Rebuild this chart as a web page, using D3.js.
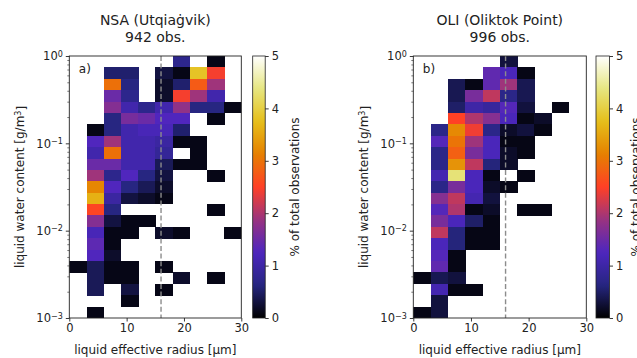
<!DOCTYPE html>
<html>
<head>
<meta charset="utf-8">
<script src="https://cdn.jsdelivr.net/npm/d3@7"></script>
<style>
  body { margin: 0; background: #fff; }
  svg { font-family: 'DejaVu Sans', sans-serif; }
</style>
</head>
<body>
<div id="chart"></div>
<script>
// 2D histograms of liquid water content vs effective radius, two sites
// counts per bin, rows from top (1 g/m3) to bottom (1e-3 g/m3), columns 0-3, 3-6 ... 27-30 um
const radiusEdges = [0, 3, 6, 9, 12, 15, 18, 21, 24, 27, 30];
const lwcEdgeExponents = d3.range(24).map(k => -3 + 3 * k / 23); // 23 log bins, 1e-3 .. 1

const nsaTitle = ["NSA (Utqiaġvik)", "942 obs."];
const nsaObs = 942;
const nsaCounts = [
  [0, 0, 0, 0, 0, 0, 7, 0, 1, 0],
  [0, 0, 5, 5, 0, 3, 1, 36, 23, 0],
  [0, 0, 28, 6, 0, 2, 5, 26, 18, 0],
  [0, 0, 14, 7, 0, 2, 23, 18, 10, 0],
  [0, 0, 16, 10, 7, 10, 17, 6, 6, 1],
  [0, 0, 6, 15, 14, 12, 12, 0, 1, 0],
  [0, 1, 6, 10, 11, 11, 5, 0, 0, 0],
  [0, 12, 18, 10, 10, 9, 1, 1, 0, 0],
  [0, 10, 28, 10, 10, 8, 0, 1, 0, 0],
  [0, 14, 14, 10, 10, 4, 1, 1, 0, 0],
  [0, 18, 7, 12, 6, 3, 0, 0, 1, 0],
  [0, 30, 12, 6, 4, 2, 0, 0, 0, 0],
  [0, 34, 9, 3, 2, 1, 0, 0, 0, 0],
  [0, 24, 6, 0, 0, 0, 0, 0, 1, 0],
  [0, 16, 3, 1, 1, 0, 0, 0, 0, 0],
  [0, 11, 1, 1, 0, 2, 1, 0, 0, 1],
  [0, 13, 1, 0, 0, 0, 0, 0, 0, 0],
  [0, 12, 2, 0, 0, 0, 0, 0, 0, 0],
  [1, 4, 1, 1, 0, 1, 0, 0, 0, 0],
  [0, 4, 1, 1, 0, 0, 2, 0, 1, 0],
  [0, 4, 0, 3, 0, 1, 0, 0, 0, 0],
  [0, 0, 0, 1, 0, 0, 0, 0, 0, 0],
  [0, 1, 0, 0, 0, 0, 0, 0, 0, 0]
];

const oliTitle = ["OLI (Oliktok Point)", "996 obs."];
const oliObs = 996;
const oliCounts = [
  [0, 0, 0, 0, 0, 3, 0, 0, 0, 0],
  [0, 0, 0, 0, 14, 12, 1, 0, 0, 0],
  [0, 0, 4, 1, 14, 19, 4, 0, 0, 0],
  [0, 0, 4, 16, 21, 7, 4, 0, 0, 0],
  [0, 0, 5, 10, 9, 13, 3, 0, 1, 0],
  [0, 0, 25, 20, 17, 12, 1, 2, 0, 0],
  [0, 7, 32, 24, 7, 2, 3, 1, 0, 0],
  [0, 13, 30, 19, 12, 1, 1, 0, 0, 0],
  [0, 7, 28, 16, 12, 2, 1, 0, 0, 0],
  [0, 7, 33, 21, 6, 2, 0, 0, 0, 0],
  [0, 11, 43, 12, 1, 0, 1, 0, 0, 0],
  [0, 7, 16, 12, 2, 1, 0, 0, 0, 0],
  [0, 17, 21, 11, 3, 0, 0, 0, 0, 0],
  [0, 13, 20, 1, 2, 0, 1, 1, 0, 0],
  [0, 16, 12, 5, 1, 0, 0, 0, 0, 0],
  [0, 21, 6, 1, 1, 0, 0, 0, 0, 0],
  [0, 12, 6, 1, 1, 0, 0, 0, 0, 0],
  [0, 13, 1, 0, 0, 0, 0, 0, 0, 0],
  [0, 14, 1, 0, 0, 0, 0, 0, 0, 0],
  [1, 4, 3, 0, 0, 0, 0, 0, 0, 0],
  [0, 11, 1, 1, 0, 0, 0, 0, 0, 0],
  [0, 3, 0, 0, 0, 0, 0, 0, 0, 0],
  [1, 3, 0, 0, 0, 0, 0, 0, 0, 0]
];

const radiusTicks = [0, 10, 20, 30];
const lwcTicks = [1e-3, 1e-2, 1e-1, 1];
const lwcTickExp = ["−3", "−2", "−1", "0"];
const cbTicks = [0, 1, 2, 3, 4, 5];
const medianRadius = 16; // dashed reference line

// CMRmap stops
const cmrStops = [0, 0.125, 0.25, 0.375, 0.5, 0.625, 0.75, 0.875, 1];
const cmrColors = ["rgb(0,0,0)", "rgb(38,38,128)", "rgb(77,38,191)", "rgb(153,51,128)",
  "rgb(255,64,38)", "rgb(230,128,0)", "rgb(230,191,26)", "rgb(230,230,128)", "rgb(255,255,255)"];
const cmap = d3.scaleLinear().domain(cmrStops).range(cmrColors).interpolate(d3.interpolateRgb).clamp(true);
const vmax = 5;

const W = 637, H = 358;
const plotTop = 56, plotBottom = 318;
const textColor = "#222";

const svg = d3.select("#chart").append("svg")
  .attr("width", W).attr("height", H);

const defs = svg.append("defs");
const grad = defs.append("linearGradient").attr("id", "cmr")
  .attr("x1", 0).attr("y1", 1).attr("x2", 0).attr("y2", 0);
d3.range(0, 1.0001, 0.02).forEach(t => {
  grad.append("stop").attr("offset", t).attr("stop-color", cmap(t));
});

function panel(opts) {
  const { left, right, cbLeft, cbWidth, cbLabelGap, counts, nObs, title, tag, id } = opts;

  const x = d3.scaleLinear().domain([0, 30]).range([left, right]);
  const y = d3.scaleLog().domain([1e-3, 1]).range([plotBottom, plotTop]);

  defs.append("clipPath").attr("id", "clip" + id)
    .append("rect").attr("x", left).attr("y", plotTop)
    .attr("width", right - left).attr("height", plotBottom - plotTop);

  const cells = [];
  counts.forEach((row, ri) => {
    const k = 22 - ri; // bin index from bottom
    row.forEach((n, ci) => {
      if (n > 0) cells.push({
        x0: radiusEdges[ci], x1: radiusEdges[ci + 1],
        y0: Math.pow(10, lwcEdgeExponents[k]), y1: Math.pow(10, lwcEdgeExponents[k + 1]),
        pct: n / nObs * 100
      });
    });
  });

  const g = svg.append("g");
  g.append("g").attr("clip-path", `url(#clip${id})`)
    .selectAll("rect").data(cells).enter().append("rect")
    .attr("x", d => x(d.x0))
    .attr("y", d => y(d.y1))
    .attr("width", d => x(d.x1) - x(d.x0) + 0.4)
    .attr("height", d => y(d.y0) - y(d.y1) + 0.4)
    .attr("fill", d => cmap(d.pct / vmax))
    .attr("shape-rendering", "crispEdges");

  // dashed reference line
  g.append("line")
    .attr("x1", x(medianRadius)).attr("x2", x(medianRadius))
    .attr("y1", plotTop).attr("y2", plotBottom)
    .attr("stroke", "#8c8c8c").attr("stroke-width", 1.4)
    .attr("stroke-dasharray", "5,2.6");

  // frame
  g.append("rect")
    .attr("x", left).attr("y", plotTop)
    .attr("width", right - left).attr("height", plotBottom - plotTop)
    .attr("fill", "none").attr("stroke", "#222").attr("stroke-width", 0.9);

  // x axis
  const xa = g.append("g").attr("transform", `translate(0,${plotBottom})`)
    .call(d3.axisBottom(x).tickValues(radiusTicks).tickSize(3.5).tickPadding(2.5).tickFormat(d3.format("d")));
  xa.select(".domain").remove();
  xa.selectAll("line").attr("stroke", "#222").attr("stroke-width", 0.9);
  xa.selectAll("text").attr("font-size", 11.5).attr("fill", textColor).attr("font-family", "DejaVu Sans");

  // y axis, major
  const ya = g.append("g").attr("transform", `translate(${left},0)`)
    .call(d3.axisLeft(y).tickValues(lwcTicks).tickSize(3.5).tickPadding(3).tickFormat(() => ""));
  ya.select(".domain").remove();
  ya.selectAll("line").attr("stroke", "#222").attr("stroke-width", 0.9);
  ya.selectAll("text").each(function (d, i) {
    const t = d3.select(this)
      .attr("font-size", 11.5).attr("fill", textColor).attr("font-family", "DejaVu Sans")
      .attr("dy", "0.32em");
    t.append("tspan").text("10");
    t.append("tspan").attr("dy", "-0.45em").attr("font-size", 8).text(lwcTickExp[i]);
  });

  // y axis, minor
  const minor = [];
  [-3, -2, -1].forEach(e => d3.range(2, 10).forEach(m => minor.push(m * Math.pow(10, e))));
  const ym = g.append("g").attr("transform", `translate(${left},0)`)
    .call(d3.axisLeft(y).tickValues(minor).tickSize(2).tickFormat(""));
  ym.select(".domain").remove();
  ym.selectAll("line").attr("stroke", "#222").attr("stroke-width", 0.6);

  // titles and labels
  const cx = (left + right) / 2;
  g.append("text").attr("x", cx).attr("y", 24.5).attr("text-anchor", "middle")
    .attr("font-size", 14).attr("fill", textColor).text(title[0]);
  g.append("text").attr("x", cx).attr("y", 41.5).attr("text-anchor", "middle")
    .attr("font-size", 14).attr("fill", textColor).text(title[1]);

  g.append("text").attr("x", cx).attr("y", 354).attr("text-anchor", "middle")
    .attr("font-size", 12).attr("fill", textColor).text("liquid effective radius [μm]");

  const yl = g.append("text")
    .attr("transform", `translate(${left - 45},${(plotTop + plotBottom) / 2}) rotate(-90)`)
    .attr("text-anchor", "middle").attr("font-size", 12).attr("fill", textColor);
  yl.append("tspan").text("liquid water content [g/m");
  yl.append("tspan").attr("dy", "-0.45em").attr("font-size", 8).text("3");
  yl.append("tspan").attr("dy", "0.45em").text("]");

  g.append("text").attr("x", left + 9.5).attr("y", 73)
    .attr("font-size", 12).attr("fill", textColor).text(tag);

  // colorbar
  const cb = d3.scaleLinear().domain([0, vmax]).range([plotBottom, plotTop]);
  g.append("rect")
    .attr("x", cbLeft).attr("y", plotTop).attr("width", cbWidth).attr("height", plotBottom - plotTop)
    .attr("fill", "url(#cmr)").attr("stroke", "#222").attr("stroke-width", 0.8);
  const ca = g.append("g").attr("transform", `translate(${cbLeft + cbWidth},0)`)
    .call(d3.axisRight(cb).tickValues(cbTicks).tickSize(3.5).tickPadding(3).tickFormat(d3.format("d")));
  ca.select(".domain").remove();
  ca.selectAll("line").attr("stroke", "#222").attr("stroke-width", 0.9);
  ca.selectAll("text").attr("font-size", 11.5).attr("fill", textColor).attr("font-family", "DejaVu Sans");

  // in the reference the right-hand label runs past the page edge
  g.append("text")
    .attr("transform", `translate(${cbLeft + cbWidth + cbLabelGap},${(plotTop + plotBottom) / 2}) rotate(-90)`)
    .attr("text-anchor", "middle").attr("font-size", 12).attr("fill", textColor)
    .text("% of total observations");
}

panel({ id: "a", left: 69.3, right: 241.3, cbLeft: 252.7, cbWidth: 12.5, cbLabelGap: 34,
  counts: nsaCounts, nObs: nsaObs, title: nsaTitle, tag: "a)" });
panel({ id: "b", left: 413.3, right: 586.3, cbLeft: 596, cbWidth: 13.5, cbLabelGap: 30.5,
  counts: oliCounts, nObs: oliObs, title: oliTitle, tag: "b)" });
</script>
</body>
</html>
